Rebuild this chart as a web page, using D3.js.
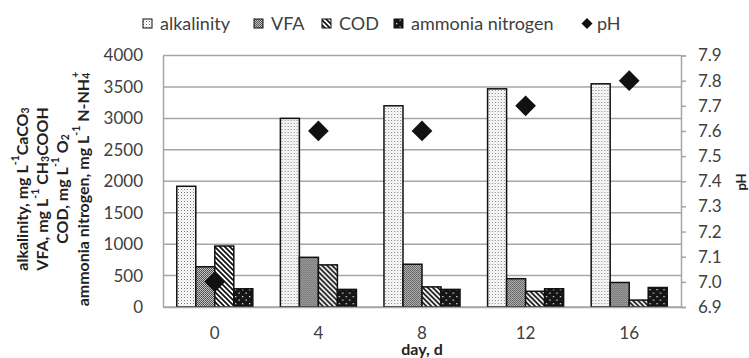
<!DOCTYPE html>
<html><head><meta charset="utf-8">
<script src="https://cdn.jsdelivr.net/npm/d3@7"></script>
<style>
html,body{margin:0;padding:0;background:#fff;}
svg{display:block;font-family:Lato,"Open Sans",sans-serif;}
</style></head>
<body>
<svg id="chart" width="749" height="358"></svg>
<script>
const days = ["0","4","8","12","16"];
const seriesNames = ["alkalinity","VFA","COD","ammonia nitrogen"];
const alkalinity = [1920, 3000, 3200, 3470, 3550];
const vfa = [640, 790, 680, 450, 390];
const cod = [970, 670, 320, 250, 110];
const ammonia = [290, 280, 280, 290, 310];
const ph = [7.0, 7.6, 7.6, 7.7, 7.8];
const leftTicks = [0,500,1000,1500,2000,2500,3000,3500,4000];
const rightTicks = [6.9,7.0,7.1,7.2,7.3,7.4,7.5,7.6,7.7,7.8,7.9];

const seriesValues = [alkalinity, vfa, cod, ammonia];
const patIds = ["pAlk","pVfa","pCod","pAmm"];

const svg = d3.select("#chart");
const L = 163, R = 681, T = 55.5, B = 307;

// patterns
const defs = svg.append("defs");
let p = defs.append("pattern").attr("id","pAlk").attr("patternUnits","userSpaceOnUse").attr("width",3).attr("height",3);
p.append("rect").attr("width",3).attr("height",3).attr("fill","#fff");
p.append("rect").attr("x",0).attr("y",0).attr("width",1).attr("height",1).attr("fill","#777");
p.append("rect").attr("x",1.5).attr("y",1.5).attr("width",1).attr("height",1).attr("fill","#bbb");
p = defs.append("pattern").attr("id","pVfa").attr("patternUnits","userSpaceOnUse").attr("width",2).attr("height",2);
p.append("rect").attr("width",2).attr("height",2).attr("fill","#c4c4c4");
p.append("rect").attr("x",0).attr("y",0).attr("width",1).attr("height",1).attr("fill","#4a4a4a");
p.append("rect").attr("x",1).attr("y",1).attr("width",1).attr("height",1).attr("fill","#5a5a5a");
p = defs.append("pattern").attr("id","pCod").attr("patternUnits","userSpaceOnUse").attr("width",5).attr("height",5);
p.append("rect").attr("width",5).attr("height",5).attr("fill","#fff");
p.append("path").attr("d","M-1,-1L6,6M-1,4L1,6M4,-1L6,1").attr("stroke","#111").attr("stroke-width",1.7);
p = defs.append("pattern").attr("id","pAmm").attr("patternUnits","userSpaceOnUse").attr("width",7).attr("height",7);
p.append("rect").attr("width",7).attr("height",7).attr("fill","#151515");
p.append("rect").attr("x",2).attr("y",2).attr("width",1.3).attr("height",1.3).attr("fill","#ddd");
p.append("rect").attr("x",5.5).attr("y",5.5).attr("width",1.3).attr("height",1.3).attr("fill","#ddd");

const yL = d3.scaleLinear().domain([0,4000]).range([B,T]);
const yR = d3.scaleLinear().domain([6.9,7.9]).range([B,T]);
const x0 = d3.scaleBand().domain(days).range([L,R]).padding(0);
const bw = x0.bandwidth();
const x1 = d3.scaleBand().domain(seriesNames).range([bw*0.133, bw*0.867]).padding(0);

const gridColor = "#a6a6a6";
// gridlines
svg.append("g").selectAll("line").data(leftTicks).join("line")
  .attr("x1",L).attr("x2",R).attr("y1",d=>yL(d)).attr("y2",d=>yL(d))
  .attr("stroke",gridColor).attr("stroke-width",1.5);

// left axis
const gLeft = svg.append("g").attr("transform",`translate(${L},0)`)
  .call(d3.axisLeft(yL).tickValues(leftTicks).tickSize(0).tickPadding(20).tickFormat(d3.format("d")));
gLeft.select(".domain").attr("stroke",gridColor).attr("stroke-width",1.5);
gLeft.selectAll("text").attr("font-size",17).attr("fill","#404040").attr("font-family","Lato");

// right axis
const gRight = svg.append("g").attr("transform",`translate(${R},0)`)
  .call(d3.axisRight(yR).tickValues(rightTicks).tickSize(5).tickPadding(12).tickFormat(d3.format(".1f")));
gRight.select(".domain").attr("stroke",gridColor).attr("stroke-width",1.5);
gRight.selectAll(".tick line").attr("stroke",gridColor).attr("stroke-width",1.5);
gRight.selectAll("text").attr("font-size",17).attr("fill","#404040").attr("font-family","Lato");

// bars
const groups = svg.append("g").selectAll("g").data(days).join("g")
  .attr("transform",d=>`translate(${x0(d)},0)`);
groups.selectAll("rect").data((d,i)=>seriesNames.map((s,k)=>({s, v: seriesValues[k][i], k})))
  .join("rect")
  .attr("x",d=>x1(d.s)).attr("width",x1.bandwidth())
  .attr("y",d=>yL(d.v)).attr("height",d=>B - yL(d.v))
  .attr("fill",d=>`url(#${patIds[d.k]})`).attr("stroke","#111").attr("stroke-width",1.5);

// bottom axis
const gBot = svg.append("g").attr("transform",`translate(0,${B})`)
  .call(d3.axisBottom(x0).tickSize(0).tickPadding(20));
gBot.select(".domain").attr("stroke",gridColor).attr("stroke-width",1.5);
gBot.selectAll("text").attr("font-size",17).attr("fill","#404040").attr("font-family","Lato");

// pH diamonds
const diamond = d3.symbol(d3.symbolSquare, 215);
svg.append("g").selectAll("path").data(ph).join("path")
  .attr("d", diamond())
  .attr("transform",(d,i)=>`translate(${x0(days[i]) + bw/2},${yR(d)}) rotate(45)`)
  .attr("fill","#111");

// axis titles
svg.append("text").attr("x",(L+R)/2).attr("y",354.5).attr("text-anchor","middle")
  .attr("font-size",16).attr("font-weight","bold").attr("fill","#222").text("day, d");
svg.append("text").attr("transform","translate(741,182) rotate(-90)").attr("text-anchor","middle")
  .attr("dominant-baseline","central")
  .attr("font-size",13).attr("font-weight","bold").attr("fill","#222").text("pH");

const titleLines = [
  [["alkalinity, mg L",0],["-1",1],["CaCO",0],["3",-1]],
  [["VFA, mg L",0],["-1",1],[" CH",0],["3",-1],["COOH",0]],
  [["COD, mg L",0],["-1",1],[" O",0],["2",-1]],
  [["ammonia nitrogen, mg L",0],["-1",1],[" N-NH",0],["4",-1],["+",2]]
];
const lineX = [21, 41, 61, 82];
titleLines.forEach((parts,li)=>{
  const t = svg.append("text").attr("transform",`translate(${lineX[li]},189) rotate(-90)`)
    .attr("text-anchor","middle").attr("dominant-baseline","central")
    .attr("font-size",16).attr("font-weight","bold").attr("fill","#222");
  let cur = 0;
  parts.forEach(([s,m])=>{
    let target = m===1 ? -6 : m===-1 ? 4 : m===2 ? -7 : 0;
    const ts = t.append("tspan").attr("dy", target - cur).text(s);
    if (m!==0) ts.attr("font-size",10.5);
    if (m===2) ts.attr("dx",-5);
    cur = target;
  });
});

// legend
const legendItems = [
  {name:"alkalinity", k:0, x:143},
  {name:"VFA", k:1, x:254},
  {name:"COD", k:2, x:322},
  {name:"ammonia nitrogen", k:3, x:394},
  {name:"pH", k:4, x:581}
];
const lg = svg.append("g").selectAll("g").data(legendItems).join("g")
  .attr("transform",d=>`translate(${d.x},0)`);
lg.filter(d=>d.k<4).append("rect").attr("x",0).attr("y",19).attr("width",9).attr("height",9)
  .attr("fill",d=>`url(#${patIds[d.k]})`).attr("stroke","#111").attr("stroke-width",1);
lg.filter(d=>d.k===4).append("path").attr("d",d3.symbol(d3.symbolSquare,60)())
  .attr("transform","translate(6,23.5) rotate(45)").attr("fill","#111");
lg.append("text").attr("x",d=>d.k===4?16:17).attr("y",29.5)
  .attr("font-size",18).attr("fill","#404040").text(d=>d.name);
</script>
</body></html>
